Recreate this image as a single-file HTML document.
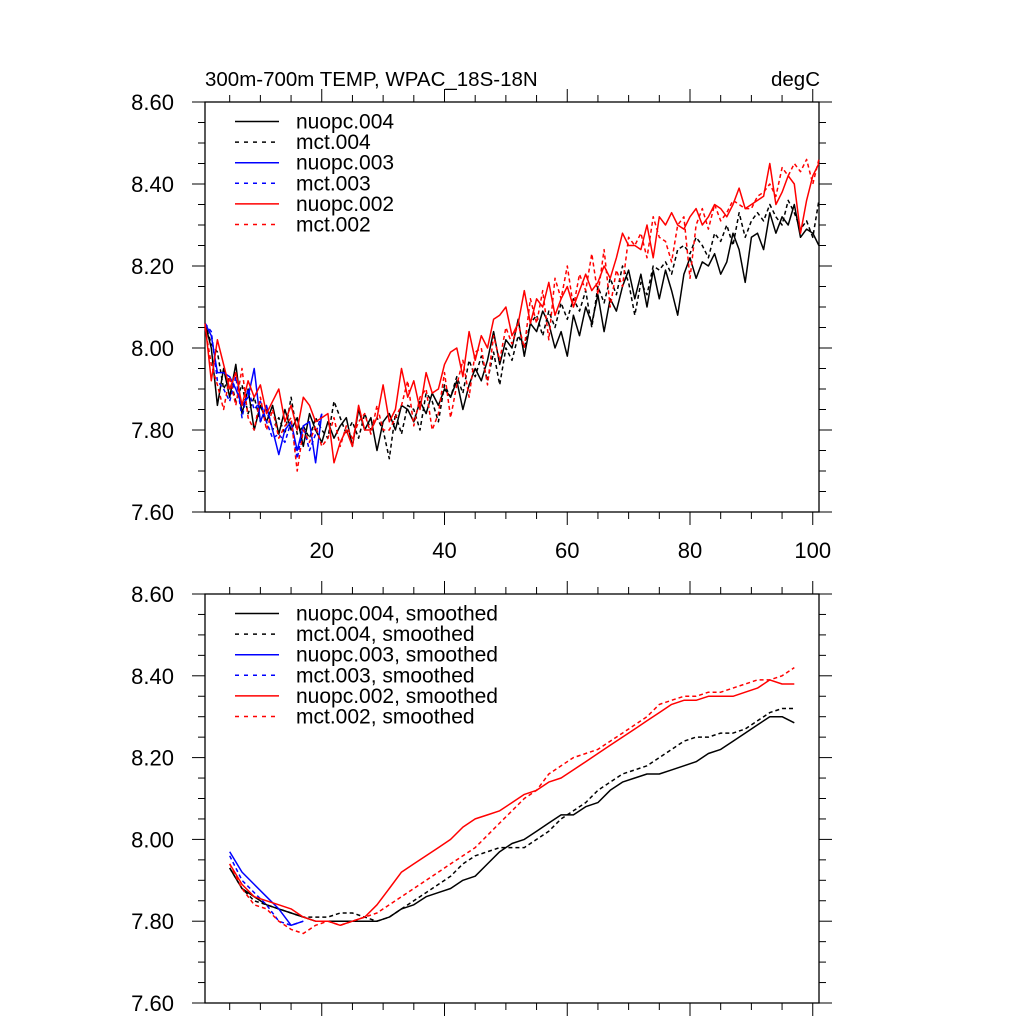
<!DOCTYPE html>
<html><head><meta charset="utf-8"><style>
html,body{margin:0;padding:0;background:#fff;}
svg{display:block;font-family:"Liberation Sans",sans-serif;}
</style></head><body>
<svg id="chart" width="1024" height="1024" viewBox="0 0 1024 1024" xmlns="http://www.w3.org/2000/svg">
<text x="205" y="86" font-size="20.5">300m-700m TEMP, WPAC_18S-18N</text>
<text x="820" y="86" font-size="20.5" text-anchor="end">degC</text>
<g id="top"></g>
<g id="bot"></g>
</svg>
<script>
const yTicks=[7.60,7.80,8.00,8.20,8.40,8.60];
const xTicks=[20,40,60,80,100];
const n4=[8.06,8.00,7.86,7.95,7.88,7.96,7.84,7.90,7.80,7.86,7.82,7.86,7.79,7.85,7.80,7.83,7.76,7.84,7.80,7.77,7.82,7.78,7.81,7.83,7.76,7.85,7.80,7.83,7.75,7.82,7.84,7.80,7.86,7.85,7.82,7.87,7.84,7.89,7.86,7.90,7.88,7.92,7.85,7.91,7.95,7.92,7.97,8.04,7.96,8.02,8.00,8.07,7.98,8.06,8.04,8.09,8.06,8.00,8.04,7.98,8.08,8.03,8.10,8.06,8.13,8.04,8.12,8.09,8.15,8.19,8.12,8.18,8.10,8.19,8.12,8.19,8.14,8.08,8.18,8.22,8.17,8.21,8.20,8.23,8.18,8.21,8.28,8.24,8.16,8.27,8.28,8.24,8.33,8.28,8.32,8.30,8.35,8.27,8.29,8.28,8.25];
const m4=[8.06,8.01,7.99,7.90,7.93,7.87,7.91,7.84,7.88,7.82,7.85,7.80,7.83,7.79,7.88,7.79,7.81,7.78,7.83,7.80,7.78,7.87,7.83,7.79,7.82,7.78,7.84,7.80,7.83,7.80,7.73,7.84,7.79,7.86,7.85,7.80,7.89,7.87,7.82,7.91,7.88,7.93,7.89,7.97,7.93,7.98,7.92,7.99,7.91,8.00,7.97,8.03,8.00,8.06,8.08,8.03,8.09,8.05,8.11,8.07,8.12,8.09,8.14,8.05,8.15,8.11,8.17,8.13,8.20,8.16,8.08,8.16,8.13,8.20,8.19,8.21,8.18,8.24,8.25,8.23,8.27,8.25,8.22,8.28,8.26,8.30,8.25,8.33,8.27,8.31,8.33,8.31,8.35,8.32,8.30,8.36,8.33,8.29,8.31,8.27,8.36];
const n3=[8.06,8.03,7.94,7.94,7.93,7.90,7.86,7.88,7.95,7.82,7.86,7.80,7.74,7.80,7.82,7.75,7.81,7.82,7.72,7.84];
const m3=[8.06,8.04,7.92,7.90,7.87,7.93,7.83,7.90,7.85,7.87,7.82,7.78,7.79,7.77,7.82,7.73,7.81,7.75,7.79,7.84];
const n2=[8.06,7.92,8.02,7.96,7.90,7.94,7.86,7.92,7.88,7.91,7.84,7.87,7.90,7.82,7.86,7.80,7.88,7.86,7.82,7.83,7.84,7.72,7.77,7.80,7.76,7.86,7.80,7.80,7.83,7.91,7.82,7.85,7.95,7.88,7.92,7.85,7.94,7.89,7.90,7.96,7.99,8.00,7.93,8.04,7.97,8.03,8.00,8.07,8.08,8.10,8.03,8.06,8.14,8.06,8.12,8.10,8.16,8.08,8.12,8.15,8.10,8.14,8.18,8.14,8.16,8.20,8.17,8.22,8.28,8.25,8.25,8.24,8.30,8.22,8.32,8.30,8.33,8.30,8.29,8.32,8.34,8.30,8.32,8.35,8.34,8.32,8.35,8.39,8.34,8.35,8.36,8.37,8.45,8.35,8.38,8.42,8.40,8.28,8.36,8.42,8.45];
const m2=[8.05,7.96,7.91,7.85,7.93,7.86,7.95,7.83,7.80,7.88,7.80,7.85,7.78,7.81,7.83,7.70,7.80,7.77,7.81,7.76,7.78,7.83,7.76,7.81,7.78,7.82,7.84,7.79,7.86,7.80,7.80,7.83,7.86,7.92,7.81,7.88,7.90,7.80,7.84,7.94,7.83,7.91,7.97,7.88,7.99,8.00,7.91,8.03,7.97,8.05,8.01,8.06,8.00,8.12,8.06,8.14,8.02,8.17,8.12,8.20,8.10,8.18,8.14,8.23,8.13,8.24,8.10,8.19,8.15,8.27,8.25,8.28,8.22,8.32,8.27,8.26,8.21,8.30,8.32,8.17,8.30,8.34,8.29,8.35,8.31,8.33,8.36,8.35,8.34,8.34,8.37,8.38,8.40,8.37,8.44,8.42,8.45,8.43,8.46,8.40,8.46];
const sX=[5,7,9,11,13,15,17,19,21,23,25,27,29,31,33,35,37,39,41,43,45,47,49,51,53,55,57,59,61,63,65,67,69,71,73,75,77,79,81,83,85,87,89,91,93,95,97];
const sn4=[7.93,7.88,7.86,7.84,7.83,7.82,7.81,7.80,7.80,7.80,7.80,7.80,7.80,7.81,7.83,7.84,7.86,7.87,7.88,7.90,7.91,7.94,7.97,7.99,8.00,8.02,8.04,8.06,8.06,8.08,8.09,8.12,8.14,8.15,8.16,8.16,8.17,8.18,8.19,8.21,8.22,8.24,8.26,8.28,8.30,8.30,8.285];
const sm4=[7.93,7.88,7.85,7.84,7.83,7.82,7.81,7.81,7.81,7.82,7.82,7.81,7.80,7.81,7.83,7.85,7.87,7.89,7.91,7.94,7.96,7.97,7.98,7.98,7.98,8.00,8.02,8.05,8.07,8.09,8.12,8.14,8.16,8.17,8.18,8.20,8.22,8.24,8.25,8.25,8.26,8.26,8.27,8.29,8.31,8.32,8.32];
const sn2=[7.94,7.89,7.86,7.85,7.84,7.83,7.81,7.80,7.80,7.79,7.80,7.81,7.84,7.88,7.92,7.94,7.96,7.98,8.00,8.03,8.05,8.06,8.07,8.09,8.11,8.12,8.14,8.15,8.17,8.19,8.21,8.23,8.25,8.27,8.29,8.31,8.33,8.34,8.34,8.35,8.35,8.35,8.36,8.37,8.39,8.38,8.38];
const sm2=[7.94,7.88,7.84,7.83,7.80,7.78,7.77,7.79,7.80,7.79,7.80,7.81,7.82,7.84,7.86,7.88,7.90,7.92,7.94,7.96,7.98,8.01,8.04,8.07,8.10,8.12,8.16,8.18,8.20,8.21,8.22,8.24,8.26,8.28,8.30,8.33,8.34,8.35,8.35,8.36,8.36,8.37,8.38,8.39,8.39,8.40,8.42];
const sn3=[7.97,7.92,7.89,7.86,7.83,7.79,7.80];
const sm3=[7.96,7.90,7.87,7.84,7.80,7.79,7.80];
const topNames=["nuopc.004","mct.004","nuopc.003","mct.003","nuopc.002","mct.002"];
const botNames=["nuopc.004, smoothed","mct.004, smoothed","nuopc.003, smoothed","mct.003, smoothed","nuopc.002, smoothed","mct.002, smoothed"];

const NS="http://www.w3.org/2000/svg";
const L=205,R=819,X0=199,XS=6.1375;
const xs=v=>X0+XS*v;
function mk(tag,attrs,parent){const e=document.createElementNS(NS,tag);for(const k in attrs)e.setAttribute(k,attrs[k]);parent.appendChild(e);return e;}
function panel(g,T,B,showX,series,names,prefix){
  const ys=v=>B-(v-7.6)*(B-T);
  const f=mk('rect',{x:L,y:T,width:R-L,height:B-T,fill:'none',stroke:'#000','stroke-width':1.3},g);
  
  
  for(let i=0;i<=20;i++){const v=7.6+i*0.05,y=ys(v),mj=i%4==0,len=mj?13:7;
    mk('line',{x1:L,x2:L-len,y1:y,y2:y,stroke:'#000','stroke-width':1},g);
    mk('line',{x1:R,x2:R+len,y1:y,y2:y,stroke:'#000','stroke-width':1},g);}
  yTicks.forEach(v=>{const t=mk('text',{x:L-31,y:ys(v)+8,'font-size':22,'text-anchor':'end'},g);t.textContent=v.toFixed(2);
    
    });
  for(let v=5;v<=100;v+=5){const x=xs(v),mj=v%20==0,len=mj?13:7;
    mk('line',{x1:x,x2:x,y1:B,y2:B+len,stroke:'#000','stroke-width':1},g);
    mk('line',{x1:x,x2:x,y1:T,y2:T-len,stroke:'#000','stroke-width':1},g);}
  if(showX)xTicks.forEach(v=>{const t=mk('text',{x:xs(v),y:B+46,'font-size':22,'text-anchor':'middle'},g);t.textContent=v;
    
    });
  series.forEach((s,i)=>{const pts=s.v.map((v,j)=>xs(s.x[j]).toFixed(1)+','+ys(v).toFixed(1)).join(' ');
    const p=mk('polyline',{points:pts,fill:'none',stroke:s.c,'stroke-width':1.5,'stroke-dasharray':s.d?'4,3':'none','stroke-linejoin':'round'},g);
    
    });
  names.forEach((n,i)=>{const y=T+19.5+i*20.6;const s=series[i];
    mk('line',{x1:235,x2:279,y1:y,y2:y,stroke:s.c,'stroke-width':1.5,'stroke-dasharray':s.d?'4,5':'none'},g);
    const t=mk('text',{x:296,y:y+7,'font-size':21},g);t.textContent=n;
    
    });
}
const idx=n=>Array.from({length:n},(_,i)=>i+1);
const sx7=sX.slice(0,7);
panel(document.getElementById('top'),102,512,true,[
 {x:idx(101),v:n4,c:'#000',d:0},{x:idx(101),v:m4,c:'#000',d:1},
 {x:idx(20),v:n3,c:'#0000ff',d:0},{x:idx(20),v:m3,c:'#0000ff',d:1},
 {x:idx(101),v:n2,c:'#ff0000',d:0},{x:idx(101),v:m2,c:'#ff0000',d:1}],topNames,'top');
panel(document.getElementById('bot'),594,1003,false,[
 {x:sX,v:sn4,c:'#000',d:0},{x:sX,v:sm4,c:'#000',d:1},
 {x:sx7,v:sn3,c:'#0000ff',d:0},{x:sx7,v:sm3,c:'#0000ff',d:1},
 {x:sX,v:sn2,c:'#ff0000',d:0},{x:sX,v:sm2,c:'#ff0000',d:1}],botNames,'bottom');
</script>
</body></html>
